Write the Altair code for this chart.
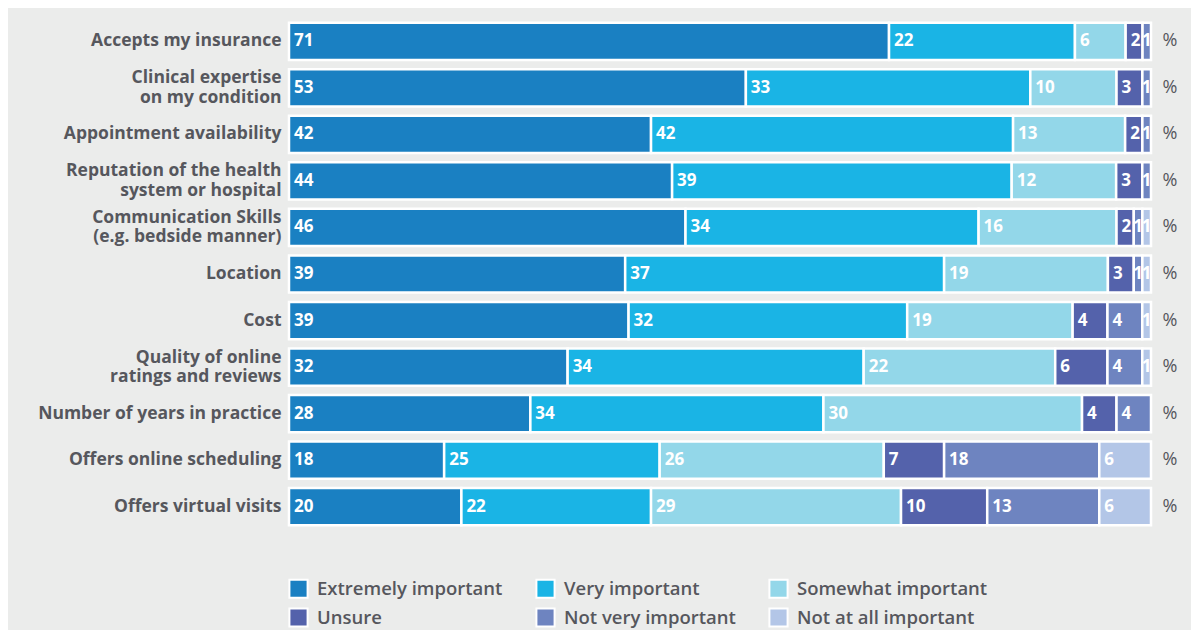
import altair as alt
import pandas as pd

items = [
    "Accepts my insurance",
    "Clinical expertise\non my condition",
    "Appointment availability",
    "Reputation of the health\nsystem or hospital",
    "Communication Skills\n(e.g. bedside manner)",
    "Location",
    "Cost",
    "Quality of online\nratings and reviews",
    "Number of years in practice",
    "Offers online scheduling",
    "Offers virtual visits",
]
levels = [
    "Extremely important",
    "Very important",
    "Somewhat important",
    "Unsure",
    "Not very important",
    "Not at all important",
]
extremely = [71, 53, 42, 44, 46, 39, 39, 32, 28, 18, 20]
very = [22, 33, 42, 39, 34, 37, 32, 34, 34, 25, 22]
somewhat = [6, 10, 13, 12, 16, 19, 19, 22, 30, 26, 29]
unsure = [2, 3, 2, 3, 2, 3, 4, 6, 4, 7, 10]
not_very = [1, 1, 1, 1, 1, 1, 4, 4, 4, 18, 13]
not_at_all = [0, 0, 0, 0, 1, 1, 1, 1, 0, 6, 6]
colors = ["#1a80c2", "#1ab4e5", "#93d7e9", "#5462ab", "#6e84c0", "#b3c6e7"]

series = [extremely, very, somewhat, unsure, not_very, not_at_all]
rows = []
for li, (lvl, vals) in enumerate(zip(levels, series)):
    for item, v in zip(items, vals):
        rows.append({"item": item, "level": lvl, "order": li, "value": v})
df = pd.DataFrame(rows)

# legend is filled column by column (2 rows x 3 columns), so interleave
legend_order = [levels[0], levels[3], levels[1], levels[4], levels[2], levels[5]]
legend_colors = [colors[0], colors[3], colors[1], colors[4], colors[2], colors[5]]

FONT = "Open Sans"
TXT = "#56575d"

y_enc = alt.Y(
    "item:N",
    sort=items,
    title=None,
    scale=alt.Scale(paddingInner=0.2, paddingOuter=0.1),
    axis=alt.Axis(
        labelExpr="split(datum.label, '\\n')",
        labelFont=FONT,
        labelFontSize=17.5,
        labelFontWeight="bold",
        labelColor=TXT,
        labelLineHeight=19.5,
        labelPadding=8,
        labelLimit=400,
        labelOffset={
            "condition": {"test": "indexof(datum.label, '\\n') >= 0", "value": -9.5},
            "value": 0,
        },
        ticks=False,
        domain=False,
    ),
)

base = (
    alt.Chart(df)
    .transform_filter(alt.datum.value > 0)
    .transform_stack(
        stack="value",
        groupby=["item"],
        as_=["x0", "x1"],
        sort=[alt.SortField("order", order="ascending")],
        offset="normalize",
    )
    .transform_calculate(xm="(datum.x0 + datum.x1) / 2")
)

bars = base.mark_bar(stroke="white", strokeWidth=2.5).encode(
    y=y_enc,
    x=alt.X("x0:Q", axis=None, scale=alt.Scale(domain=[0, 1], nice=False)),
    x2="x1:Q",
    color=alt.Color(
        "level:N",
        scale=alt.Scale(domain=legend_order, range=legend_colors),
        legend=alt.Legend(
            title=None,
            orient="none",
            legendX=-1,
            legendY=560,
            columns=3,
            gridAlign="each",
            columnPadding=29,
            rowPadding=2,
            symbolType="square",
            symbolSize=330,
            symbolStrokeColor="white",
            symbolStrokeWidth=2,
            symbolOpacity=1,
            labelFont=FONT,
            labelFontSize=18.5,
            labelFontWeight=600,
            labelColor=TXT,
            labelOffset=8,
            labelLimit=300,
        ),
    ),
    order=alt.Order("order:Q"),
)

text_style = dict(baseline="middle", color="white", font=FONT, fontSize=17, fontWeight="bold")

labels = base.transform_filter(alt.datum.value > 1).mark_text(
    align="left", dx=5, **text_style
).encode(
    y=alt.Y("item:N", sort=items),
    x=alt.X("x0:Q"),
    text=alt.Text("value:Q"),
)

small_labels = base.transform_filter(alt.datum.value <= 1).mark_text(
    align="center", **text_style
).encode(
    y=alt.Y("item:N", sort=items),
    x=alt.X("xm:Q"),
    text=alt.Text("value:Q"),
)

pct = (
    alt.Chart(pd.DataFrame({"item": items}))
    .mark_text(text="%", font=FONT, fontSize=18, color=TXT, align="center", baseline="middle")
    .encode(y=alt.Y("item:N", sort=items), x=alt.value(881))
)

chart = (
    alt.layer(bars, labels, small_labels, pct)
    .properties(
        width=862,
        height=512,
        background="#ebeceb",
        autosize=alt.AutoSizeParams(type="none"),
        padding={"left": 281, "top": 10, "right": 40, "bottom": 100},
    )
    .configure_view(stroke=None)
)

chart.save("out.html", embed_options={"renderer": "svg", "actions": False})
